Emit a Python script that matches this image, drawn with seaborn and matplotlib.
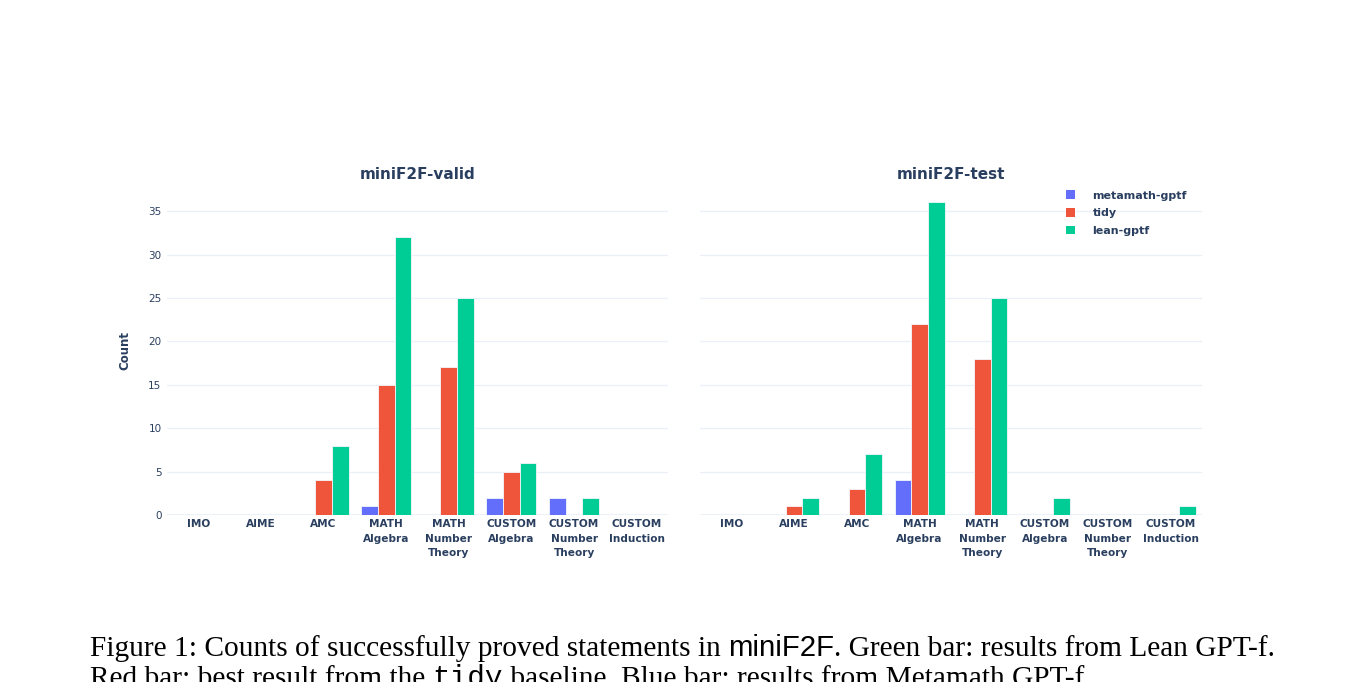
import matplotlib
matplotlib.use("Agg")
import matplotlib.pyplot as plt
import seaborn as sns
import pandas as pd
from matplotlib.patches import Patch

# ---- data ----
categories = ["IMO", "AIME", "AMC", "MATH\nAlgebra", "MATH\nNumber\nTheory",
              "CUSTOM\nAlgebra", "CUSTOM\nNumber\nTheory", "CUSTOM\nInduction"]
models = ["metamath-gptf", "tidy", "lean-gptf"]

valid_metamath = [0, 0, 0, 1, 0, 2, 2, 0]
valid_tidy     = [0, 0, 4, 15, 17, 5, 0, 0]
valid_lean     = [0, 0, 8, 32, 25, 6, 2, 0]

test_metamath = [0, 0, 0, 4, 0, 0, 0, 0]
test_tidy     = [0, 1, 3, 22, 18, 0, 0, 0]
test_lean     = [0, 2, 7, 36, 25, 2, 0, 1]

titles = ["miniF2F-valid", "miniF2F-test"]
y_ticks = [0, 5, 10, 15, 20, 25, 30, 35]

colors = ["#636EFA", "#EF553B", "#00CC96"]
text_color = "#2a3f5f"
grid_color = "#EBF0F8"


def long_df(m, t, l):
    rows = []
    for series, vals in zip(models, [m, t, l]):
        for c, v in zip(categories, vals):
            rows.append({"category": c, "model": series, "count": v})
    return pd.DataFrame(rows)


df_valid = long_df(valid_metamath, valid_tidy, valid_lean)
df_test = long_df(test_metamath, test_tidy, test_lean)

sns.set_theme(style="white")
plt.rcParams["font.family"] = ["DejaVu Sans"]

W, H = 1369, 682
fig = plt.figure(figsize=(W / 100, H / 100), dpi=100)

def px_axes(l, r, top, bottom):
    return fig.add_axes([l / W, 1 - bottom / H, (r - l) / W, (bottom - top) / H])

ax1 = px_axes(167, 668, 186, 515)
ax2 = px_axes(700, 1202, 186, 515)

for ax, df, title in [(ax1, df_valid, titles[0]), (ax2, df_test, titles[1])]:
    sns.barplot(data=df, x="category", y="count", hue="model",
                order=categories, hue_order=models, palette=colors,
                saturation=1, width=0.8, edgecolor="#f4f6fb", linewidth=0.6,
                ax=ax, legend=False, zorder=3)
    ax.set_ylim(0, 37.9)
    ax.set_xlim(-0.5, len(categories) - 0.5)
    ax.set_yticks(y_ticks)
    ax.grid(axis="y", color=grid_color, linewidth=1, zorder=0)
    ax.axhline(0, color=grid_color, linewidth=2, zorder=1)
    for s in ax.spines.values():
        s.set_visible(False)
    ax.set_xlabel("")
    ax.set_ylabel("")
    ax.tick_params(axis="both", length=0)
    ax.tick_params(axis="x", pad=3)
    ax.set_xticks(range(len(categories)))
    ax.set_xticklabels(categories, fontsize=7.6, fontweight="bold",
                       color=text_color, linespacing=1.55)
    ax.set_title(title, fontsize=11, fontweight="bold", color=text_color, pad=5)

ax1.set_yticklabels([str(v) for v in y_ticks], fontsize=7.5, color=text_color)
ax1.tick_params(axis="y", pad=4)
ax1.set_ylabel("Count", fontsize=8.5, fontweight="bold", color=text_color, labelpad=12)
ax2.set_yticklabels([])

handles = [Patch(facecolor=c, edgecolor="none") for c in colors]
leg = ax2.legend(handles, models, loc="upper left", bbox_to_anchor=(0.72, 1.0),
                 frameon=False, fontsize=8, handlelength=0.8, handleheight=0.8,
                 handletextpad=1.6, labelspacing=0.68, borderaxespad=0)
for t in leg.get_texts():
    t.set_color(text_color)
    t.set_fontweight("bold")

# ---- caption ----
cap_size = 21.2
line1 = [("Figure 1: Counts of successfully proved statements in ", "Liberation Serif"),
         ("miniF2F", "Liberation Sans"),
         (". Green bar: results from Lean GPT-f.", "Liberation Serif")]
line2 = [("Red bar: best result from the ", "Liberation Serif"),
         ("tidy", "Liberation Mono"),
         (" baseline. Blue bar: results from Metamath GPT-f.", "Liberation Serif")]

fig.canvas.draw()
renderer = fig.canvas.get_renderer()
for pieces, base_px in [(line1, 656), (line2, 686)]:
    x = 90
    for txt, fam in pieces:
        t = fig.text(x / W, 1 - base_px / H, txt, family=fam, fontsize=cap_size,
                     color="black", va="baseline", ha="left")
        bb = t.get_window_extent(renderer)
        x += bb.width

fig.savefig("out.png", dpi=100)
